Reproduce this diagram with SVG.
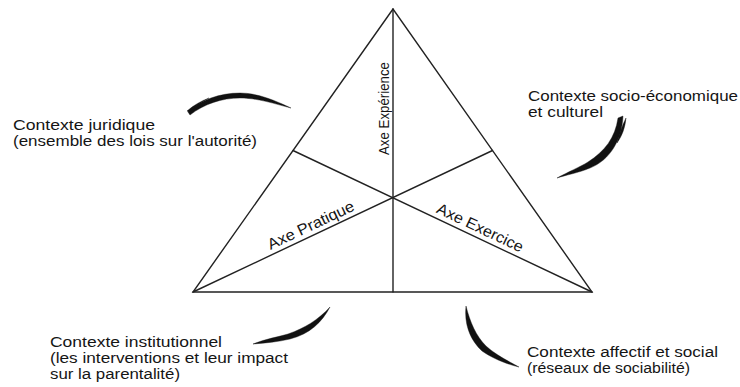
<svg xmlns="http://www.w3.org/2000/svg" width="740" height="387" viewBox="0 0 740 387">
<style>
  .edge { stroke: #222; stroke-width: 1.4; fill: none; stroke-linecap: round; stroke-linejoin: miter; }
  .ctx { font-family: "Liberation Sans", Arial, sans-serif; font-size: 14px; fill: #151515; }
  .axe { font-family: "Liberation Sans", Arial, sans-serif; font-size: 15.5px; fill: #151515; }
  .axev { font-family: "Liberation Sans", Arial, sans-serif; font-size: 14.5px; fill: #151515; }
  .brush { fill: #111; stroke: #111; stroke-width: 0.4; }
</style>
<rect width="740" height="387" fill="#ffffff"/>

<g id="triangle">
  <polygon class="edge" points="393,9 193,292 592,292"/>
  <line class="edge" x1="393" y1="9" x2="393" y2="292"/>
  <line class="edge" x1="293" y1="150.5" x2="592" y2="292"/>
  <line class="edge" x1="492.5" y1="150.5" x2="193" y2="292"/>
</g>

<g id="axe-experience">
  <text class="axev" transform="translate(393,108.5) rotate(-90)" x="0" y="-4" text-anchor="middle" textLength="93" lengthAdjust="spacingAndGlyphs">Axe Expérience</text>
</g>
<g id="axe-pratique">
  <text class="axe" transform="translate(315,234) rotate(-25.3)" x="0" y="-4.5" text-anchor="middle" textLength="94" lengthAdjust="spacingAndGlyphs">Axe Pratique</text>
</g>
<g id="axe-exercice">
  <text class="axe" transform="translate(476,236.5) rotate(25.3)" x="0" y="-4.5" text-anchor="middle" textLength="94" lengthAdjust="spacingAndGlyphs">Axe Exercice</text>
</g>

<g id="contexte-juridique">
  <text class="ctx" x="13" y="130" textLength="142" lengthAdjust="spacingAndGlyphs">Contexte juridique</text>
  <text class="ctx" x="13" y="146" textLength="244" lengthAdjust="spacingAndGlyphs">(ensemble des lois sur l'autorité)</text>
</g>

<g id="contexte-socio-economique">
  <text class="ctx" x="528" y="101" textLength="210" lengthAdjust="spacingAndGlyphs">Contexte socio-économique</text>
  <text class="ctx" x="528" y="117" textLength="75" lengthAdjust="spacingAndGlyphs">et culturel</text>
</g>

<g id="contexte-institutionnel">
  <text class="ctx" x="50" y="347" textLength="172" lengthAdjust="spacingAndGlyphs">Contexte institutionnel</text>
  <text class="ctx" x="50" y="363" textLength="238" lengthAdjust="spacingAndGlyphs">(les interventions et leur impact</text>
  <text class="ctx" x="50" y="379" textLength="130" lengthAdjust="spacingAndGlyphs">sur la parentalité)</text>
</g>

<g id="contexte-affectif">
  <text class="ctx" x="527" y="357" textLength="191" lengthAdjust="spacingAndGlyphs">Contexte affectif et social</text>
  <text class="ctx" x="527" y="373" textLength="163" lengthAdjust="spacingAndGlyphs">(réseaux de sociabilité)</text>
</g>

<g id="connectors">
  <path class="brush" d="M188,112 C200,100 220,93 240,93 C258,93 276,101 291,108 C275,104 258,98 240,98 C222,98 204,104 190,115 Z"/>
  <path class="brush" d="M187,111 C194,105 201,101 209,98 C202,102 195,106 189,112 Z"/>
  <path class="brush" d="M623,116 C622,140 610,160 590,168 C578,173 566,175 557,178 C568,172 580,167 588,162 C605,151 615,138 618,118 Z"/>
  <path class="brush" d="M626,118 C625,128 622,136 617,143 C619,134 622,126 626,118 Z"/>
  <path class="brush" d="M330,307 C322,322 310,334 290,339 C278,342 265,343 253,344 C265,339 278,337 288,334 C305,328 318,320 330,307 Z"/>
  <path class="brush" d="M466,306 C470,322 476,336 486,346 C496,355 508,361 519,367 C506,364 492,358 482,351 C470,340 464,324 466,306 Z"/>
</g>
</svg>
